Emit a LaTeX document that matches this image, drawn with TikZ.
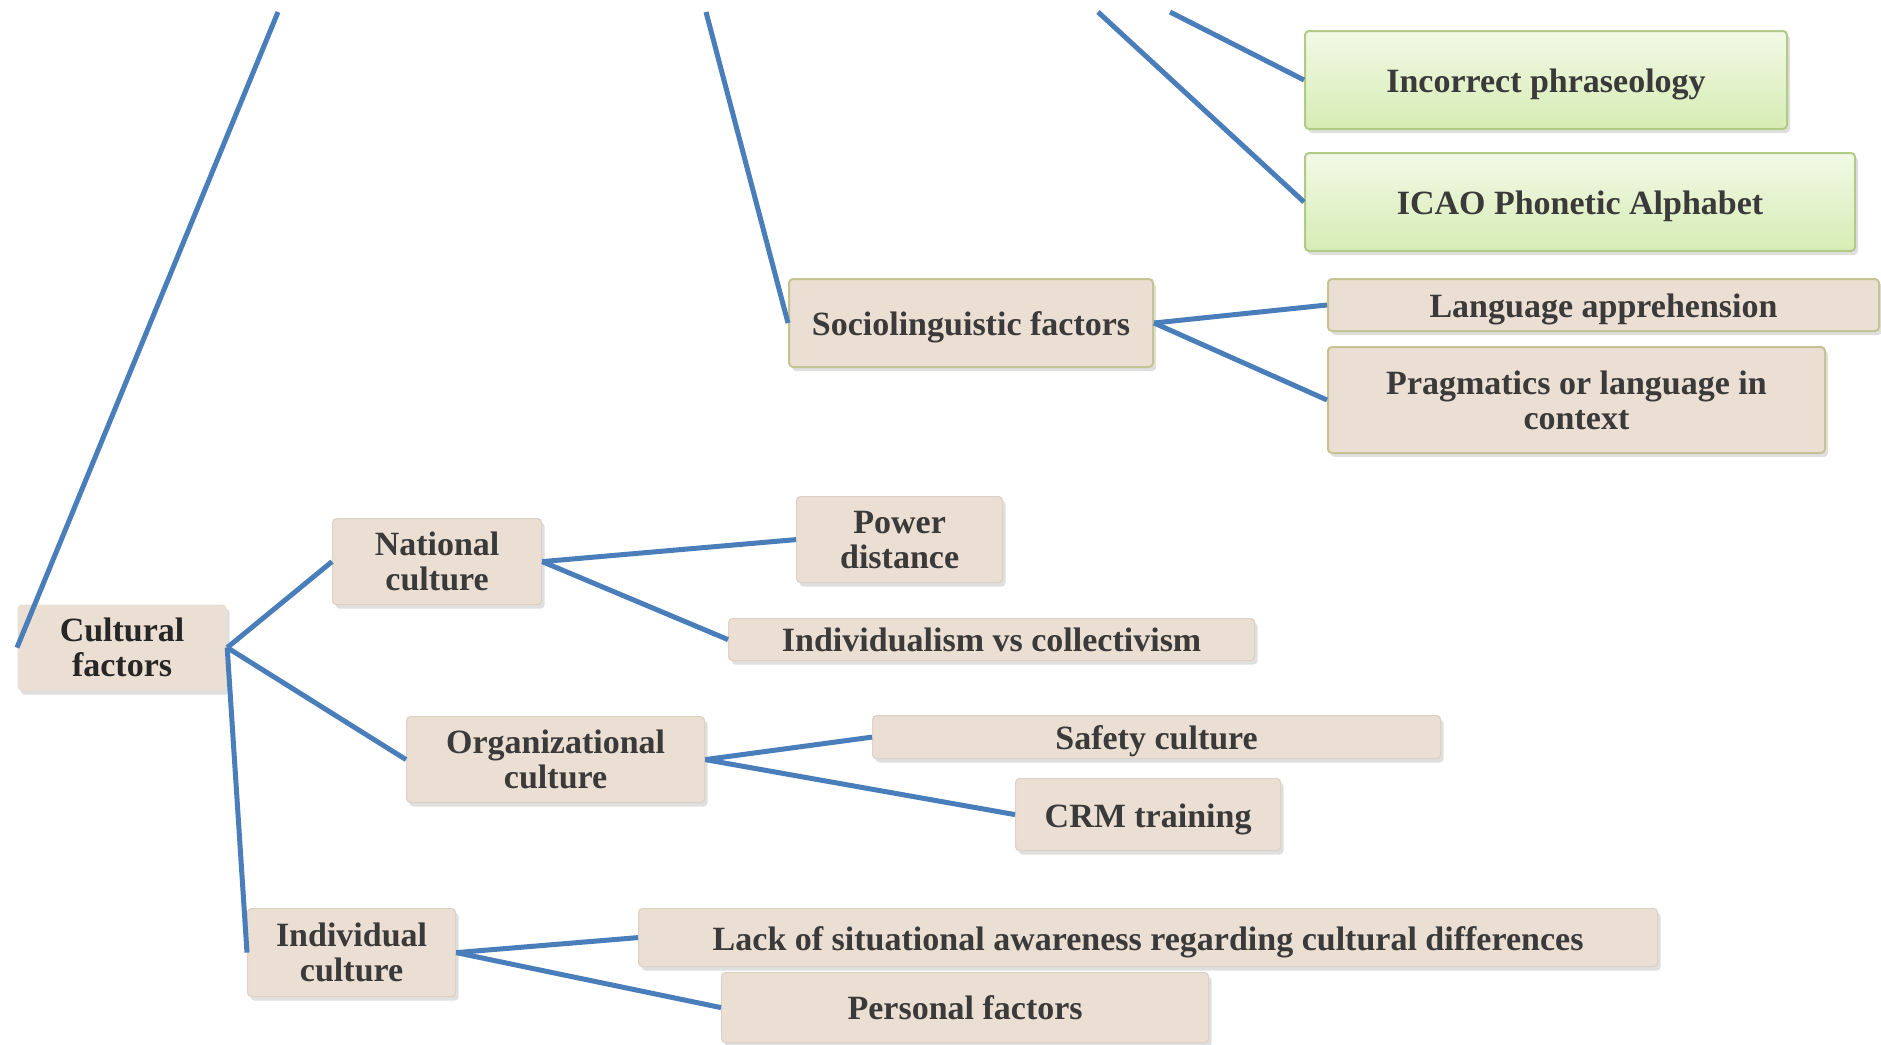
\documentclass[tikz,border=0pt]{standalone}
\usepackage{fontspec}
\setmainfont{Liberation Serif}
\usepackage{xcolor}
\usetikzlibrary{shadows}
\definecolor{LinkBlue}{RGB}{74,126,187}
\definecolor{Tan}{RGB}{235,222,210}
\definecolor{TanEdge}{RGB}{222,208,196}
\definecolor{Olive}{RGB}{196,196,146}
\definecolor{LeafTop}{RGB}{242,249,230}
\definecolor{LeafBot}{RGB}{214,236,180}
\definecolor{LeafEdge}{RGB}{178,202,136}
\definecolor{Ink}{RGB}{58,58,58}

\begin{document}
\begin{tikzpicture}[x=1pt, y=-1pt,
		box/.style={draw=TanEdge, line width=1.2pt, fill=Tan, rounded corners=4pt,
			anchor=north west, inner sep=0pt, align=center, text=Ink,
			font=\fontsize{34}{35}\selectfont\bfseries,
			drop shadow={shadow xshift=3pt, shadow yshift=-4pt, opacity=0.25}},
		olivebox/.style={box, draw=Olive, line width=2pt},
		leafbox/.style={box, draw=LeafEdge, line width=2pt, top color=LeafTop, bottom color=LeafBot},
		oneline/.style={text height=25pt, text depth=0pt},
		link/.style={draw=LinkBlue, line width=5pt}
	]
		\useasboundingbox (0,0) rectangle (1881,1044);
		% upper branch
		\node[leafbox, oneline, minimum width=482pt, minimum height=98pt] (phrase) at (1304,30) {Incorrect phraseology};
		\node[leafbox, oneline, minimum width=550pt, minimum height=98pt] (icao) at (1304,152) {ICAO Phonetic Alphabet};
		\node[olivebox, oneline, minimum width=364pt, minimum height=88pt] (socio) at (788,278) {Sociolinguistic factors};
		\node[olivebox, oneline, minimum width=551pt, minimum height=52pt] (appr) at (1327,278) {Language apprehension};
		\node[olivebox, minimum width=497pt, minimum height=106pt] (pragm) at (1327,346) {Pragmatics or language in\\context};
		% cultural branch
		\node[box, draw=none, text=black!85, minimum width=209pt, minimum height=86pt] (cult) at (17,604) {Cultural\\factors};
		\node[box, minimum width=209pt, minimum height=86pt] (natc) at (332,518) {National\\culture};
		\node[box, minimum width=206pt, minimum height=86pt] (power) at (796,496) {Power\\distance};
		\node[box, minimum width=526pt, minimum height=42pt] (indiv) at (728,618) {Individualism vs collectivism};
		\node[box, minimum width=298pt, minimum height=86pt] (orgc) at (406,716) {Organizational\\culture};
		\node[box, oneline, minimum width=568pt, minimum height=43pt] (safety) at (872,715) {Safety culture};
		\node[box, oneline, minimum width=265pt, minimum height=72pt] (crm) at (1015,778) {CRM training};
		\node[box, minimum width=208pt, minimum height=88pt] (indc) at (247,908) {Individual\\culture};
		\node[box, oneline, minimum width=1019pt, minimum height=58pt] (aware) at (638,908) {Lack of situational awareness regarding cultural differences};
		\node[box, minimum width=487pt, minimum height=70pt] (persf) at (721,972) {Personal factors};
		% loose ends at the top edge
		\coordinate (topA) at (278,12);
		\coordinate (topB) at (706,12);
		\coordinate (topC) at (1098,12);
		\coordinate (topD) at (1170,12);
		\draw[link] (topA) -- (cult.west);
		\draw[link] (topB) -- (socio.west);
		\draw[link] (topC) -- (icao.west);
		\draw[link] (topD) -- (phrase.west);
		\foreach \a/\b in {socio/appr, socio/pragm, cult/natc, cult/orgc, cult/indc,
			natc/power, natc/indiv, orgc/safety, orgc/crm, indc/aware, indc/persf}
			\draw[link] (\a.east) -- (\b.west);
	\end{tikzpicture}
\end{document}
